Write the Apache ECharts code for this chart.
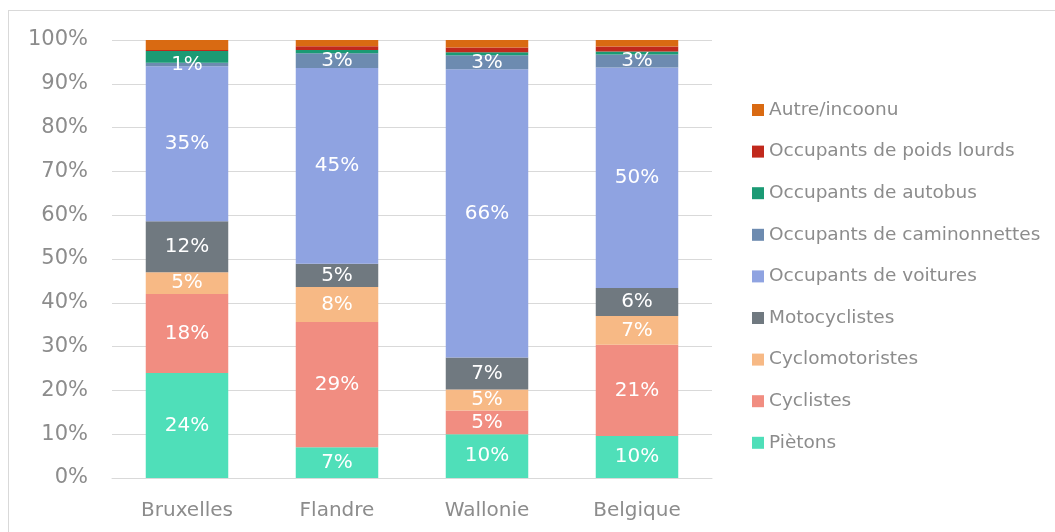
<!DOCTYPE html>
<html>
<head>
<meta charset="utf-8">
<script src="https://cdn.jsdelivr.net/npm/echarts@6/dist/echarts.min.js"></script>
<style>
  html, body { margin: 0; padding: 0; background: #fff; overflow: hidden; }
  #frame { position: absolute; left: 8px; top: 10px; width: 1100px; height: 600px; border: 1px solid #d9d9d9; box-sizing: border-box; }
  #main { position: absolute; left: 0; top: 0; width: 1055px; height: 532px; }
</style>
</head>
<body>
<div id="frame"></div>
<div id="main"></div>
<script>
const regions = ['Bruxelles', 'Flandre', 'Wallonie', 'Belgique']

// % par catégorie d'usager (bas -> haut de la pile)
const pietons = [24, 7, 10, 9.6]
const cyclistes = [18, 28.6, 5.4, 20.8]
const cyclomotoristes = [5, 8, 4.8, 6.6]
const motocyclistes = [11.6, 5.3, 7.3, 6.4]
const voitures = [35.4, 44.7, 65.8, 50.3]
const camionnettes = [0.8, 3.4, 3.2, 3]
const autobus = [2.7, 0.7, 0.7, 0.7]
const poidsLourds = [0.2, 0.9, 1.1, 1.1]
const autre = [2.3, 1.4, 1.7, 1.5]

const yTicks = [0, 10, 20, 30, 40, 50, 60, 70, 80, 90, 100]

const seriesDefs = [
    { name: 'Piètons', data: pietons, color: '#4fdfb9', label: true },
    { name: 'Cyclistes', data: cyclistes, color: '#f18d81', label: true },
    { name: 'Cyclomotoristes', data: cyclomotoristes, color: '#f7b985', label: true },
    { name: 'Motocyclistes', data: motocyclistes, color: '#707980', label: true },
    { name: 'Occupants de voitures', data: voitures, color: '#8fa3e1', label: true },
    { name: 'Occupants de caminonnettes', data: camionnettes, color: '#6d8bb0', label: true },
    { name: 'Occupants de autobus', data: autobus, color: '#1b9a74', label: false },
    { name: 'Occupants de poids lourds', data: poidsLourds, color: '#c1291c', label: false },
    { name: 'Autre/incoonu', data: autre, color: '#d96a12', label: false }
]

const chart = echarts.init(document.getElementById('main'), null, { renderer: 'canvas' })

const font = 'DejaVu Sans, Verdana, sans-serif'

chart.setOption({
    animation: false,
    textStyle: { fontFamily: font },
    grid: {
        left: 112,
        right: 343,
        top: 40,
        bottom: 54
    },
    legend: {
        orient: 'vertical',
        left: 752,
        top: 100,
        padding: 0,
        itemWidth: 12,
        itemHeight: 12,
        itemGap: 21.6,
        icon: 'rect',
        data: seriesDefs.map(s => s.name).reverse(),
        textStyle: {
            fontFamily: font,
            fontSize: 18.5,
            color: '#8c8c8c',
            lineHeight: 20
        }
    },
    xAxis: {
        type: 'category',
        data: regions,
        axisTick: { show: false },
        axisLine: { lineStyle: { color: '#d9d9d9', width: 1 } },
        axisLabel: {
            fontFamily: font,
            fontSize: 20,
            color: '#8c8c8c',
            margin: 23
        }
    },
    yAxis: {
        type: 'value',
        min: 0,
        max: 100,
        interval: 10,
        axisLine: { show: false },
        axisTick: { show: false },
        axisLabel: {
            fontFamily: font,
            fontSize: 21,
            color: '#8c8c8c',
            margin: 24,
            padding: [6, 0, 0, 0],
            formatter: function (v) {
                return yTicks.indexOf(v) >= 0 ? v + '%' : ''
            }
        },
        splitLine: { lineStyle: { color: '#d9d9d9', width: 1 } }
    },
    series: seriesDefs.map(function (s) {
        return {
            name: s.name,
            type: 'bar',
            stack: 'total',
            barWidth: '55%',
            data: s.data,
            itemStyle: { color: s.color },
            label: {
                show: s.label,
                position: 'inside',
                color: '#ffffff',
                fontFamily: font,
                fontSize: 20,
                formatter: function (p) {
                    return Math.round(p.value) + '%'
                }
            }
        }
    })
})
</script>
</body>
</html>
